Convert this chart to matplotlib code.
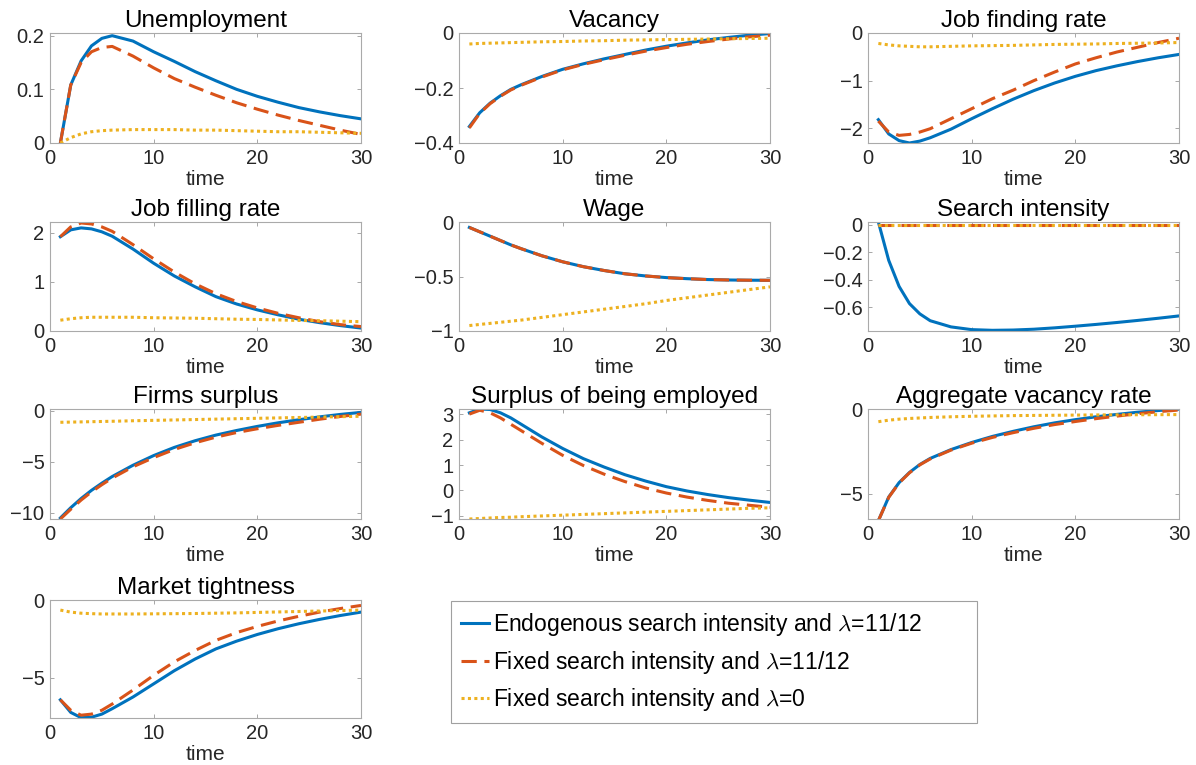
import numpy as np
import matplotlib
matplotlib.use("Agg")
import matplotlib.pyplot as plt

plt.rcParams['font.family'] = ['Liberation Sans', 'DejaVu Sans']
plt.rcParams['mathtext.fontset'] = 'cm'

# time points
t = [1, 2, 3, 4, 5, 6, 8, 10, 12, 14, 16, 18, 20, 22, 24, 26, 28, 30]

titles = ['Unemployment', 'Vacancy', 'Job finding rate',
          'Job filling rate', 'Wage', 'Search intensity',
          'Firms surplus', 'Surplus of being employed', 'Aggregate vacancy rate',
          'Market tightness']

# endogenous search intensity, lambda = 11/12
endo = [
    [0, 0.108, 0.153, 0.181, 0.195, 0.2, 0.19, 0.17, 0.152, 0.133, 0.116, 0.1, 0.087, 0.076, 0.066, 0.058, 0.051, 0.045],
    [-0.34, -0.29, -0.255, -0.228, -0.205, -0.188, -0.158, -0.132, -0.112, -0.094, -0.078, -0.062, -0.048, -0.036, -0.025, -0.016, -0.008, -0.002],
    [-1.82, -2.12, -2.26, -2.31, -2.27, -2.2, -2.02, -1.8, -1.59, -1.39, -1.21, -1.05, -0.91, -0.79, -0.69, -0.6, -0.52, -0.45],
    [1.92, 2.06, 2.1, 2.08, 2.02, 1.93, 1.67, 1.38, 1.12, 0.9, 0.7, 0.55, 0.43, 0.33, 0.24, 0.17, 0.11, 0.06],
    [-0.05, -0.09, -0.13, -0.17, -0.21, -0.245, -0.31, -0.365, -0.41, -0.445, -0.475, -0.495, -0.51, -0.52, -0.528, -0.532, -0.534, -0.535],
    [0.02, -0.26, -0.45, -0.575, -0.65, -0.7, -0.745, -0.765, -0.77, -0.768, -0.762, -0.752, -0.74, -0.727, -0.713, -0.698, -0.682, -0.665],
    [-10.5, -9.5, -8.6, -7.8, -7.1, -6.45, -5.35, -4.4, -3.6, -2.95, -2.4, -1.95, -1.55, -1.2, -0.9, -0.62, -0.38, -0.18],
    [3.05, 3.2, 3.18, 3.05, 2.85, 2.6, 2.1, 1.65, 1.25, 0.92, 0.62, 0.37, 0.15, -0.02, -0.16, -0.28, -0.38, -0.47],
    [-6.6, -5.2, -4.35, -3.75, -3.28, -2.92, -2.4, -1.98, -1.62, -1.32, -1.05, -0.82, -0.63, -0.46, -0.32, -0.19, -0.09, -0.01],
    [-6.43, -7.24, -7.58, -7.55, -7.35, -7.0, -6.25, -5.4, -4.55, -3.8, -3.15, -2.65, -2.22, -1.85, -1.53, -1.25, -1.0, -0.78],
]

# fixed search intensity, lambda = 11/12
fixed = [
    [0, 0.108, 0.15, 0.17, 0.178, 0.18, 0.162, 0.14, 0.12, 0.104, 0.089, 0.075, 0.063, 0.052, 0.042, 0.033, 0.024, 0.016],
    [-0.345, -0.292, -0.257, -0.23, -0.207, -0.19, -0.16, -0.134, -0.114, -0.097, -0.081, -0.066, -0.053, -0.041, -0.031, -0.022, -0.014, -0.008],
    [-1.85, -2.08, -2.15, -2.13, -2.08, -2.01, -1.8, -1.59, -1.38, -1.2, -1.0, -0.82, -0.65, -0.52, -0.4, -0.3, -0.2, -0.11],
    [1.92, 2.12, 2.2, 2.18, 2.12, 2.03, 1.76, 1.47, 1.2, 0.96, 0.76, 0.6, 0.47, 0.36, 0.27, 0.19, 0.13, 0.09],
    [-0.05, -0.09, -0.13, -0.17, -0.21, -0.245, -0.31, -0.365, -0.41, -0.445, -0.475, -0.495, -0.51, -0.52, -0.528, -0.532, -0.534, -0.535],
    [0] * 18,
    [-10.6, -9.65, -8.75, -7.95, -7.25, -6.6, -5.5, -4.6, -3.8, -3.15, -2.6, -2.15, -1.78, -1.45, -1.15, -0.85, -0.58, -0.35],
    [3.0, 3.15, 3.05, 2.85, 2.6, 2.35, 1.85, 1.38, 0.98, 0.64, 0.35, 0.1, -0.1, -0.26, -0.39, -0.5, -0.58, -0.66],
    [-6.6, -5.22, -4.37, -3.77, -3.3, -2.95, -2.43, -2.02, -1.68, -1.4, -1.14, -0.92, -0.74, -0.57, -0.42, -0.28, -0.16, -0.06],
    [-6.43, -7.1, -7.42, -7.35, -7.1, -6.7, -5.8, -4.85, -3.98, -3.25, -2.6, -2.1, -1.7, -1.35, -1.05, -0.78, -0.55, -0.35],
]

# fixed search intensity, lambda = 0
zero = [
    [0, 0.01, 0.017, 0.021, 0.023, 0.024, 0.025, 0.025, 0.025, 0.024, 0.024, 0.023, 0.022, 0.021, 0.021, 0.02, 0.019, 0.018],
    [-0.04, -0.038, -0.037, -0.036, -0.035, -0.034, -0.032, -0.031, -0.029, -0.028, -0.026, -0.025, -0.024, -0.023, -0.022, -0.021, -0.02, -0.019],
    [-0.22, -0.25, -0.27, -0.28, -0.29, -0.29, -0.28, -0.27, -0.265, -0.26, -0.25, -0.24, -0.235, -0.23, -0.22, -0.215, -0.21, -0.2],
    [0.22, 0.25, 0.27, 0.28, 0.28, 0.28, 0.28, 0.27, 0.265, 0.26, 0.25, 0.24, 0.235, 0.225, 0.215, 0.21, 0.2, 0.19],
    [-0.95, -0.94, -0.93, -0.92, -0.91, -0.9, -0.875, -0.85, -0.825, -0.8, -0.775, -0.75, -0.72, -0.695, -0.67, -0.645, -0.62, -0.595],
    [0] * 18,
    [-1.15, -1.13, -1.11, -1.09, -1.07, -1.05, -1.0, -0.96, -0.92, -0.88, -0.84, -0.8, -0.76, -0.72, -0.68, -0.64, -0.6, -0.56],
    [-1.12, -1.1, -1.08, -1.06, -1.05, -1.03, -1.0, -0.97, -0.94, -0.91, -0.88, -0.85, -0.82, -0.79, -0.76, -0.73, -0.7, -0.68],
    [-0.75, -0.66, -0.6, -0.56, -0.53, -0.5, -0.46, -0.43, -0.41, -0.39, -0.38, -0.37, -0.36, -0.35, -0.345, -0.34, -0.335, -0.33],
    [-0.65, -0.78, -0.85, -0.88, -0.9, -0.9, -0.9, -0.89, -0.88, -0.87, -0.85, -0.83, -0.8, -0.77, -0.74, -0.71, -0.68, -0.65],
]

ylims = [(0, 0.205), (-0.4, 0), (-2.31, 0), (0, 2.22), (-1, 0),
         (-0.775, 0.02), (-10.6, 0.15), (-1.12, 3.2), (-6.5, 0), (-7.6, 0)]
yticks = [[0, 0.1, 0.2], [-0.4, -0.2, 0], [-2, -1, 0], [0, 1, 2], [-1, -0.5, 0],
          [-0.6, -0.4, -0.2, 0], [-10, -5, 0], [-1, 0, 1, 2, 3], [-5, 0], [-5, 0]]

labels = [r'Endogenous search intensity and $\lambda$=11/12',
          r'Fixed search intensity and $\lambda$=11/12',
          r'Fixed search intensity and $\lambda$=0']
blue, red, yellow = '#0072BD', '#D95319', '#EDB120'

W, H = 1196, 765
fig = plt.figure(figsize=(W / 100, H / 100), dpi=100)

lefts = [50, 459, 868]
rows = [(33, 143), (222, 331), (409, 519), (600, 718)]

for i in range(10):
    top, bot = rows[i // 3]
    left = lefts[i % 3]
    ax = fig.add_axes([left / W, 1 - bot / H, 311 / W, (bot - top) / H])
    l1, = ax.plot(t, endo[i], color=blue, lw=2.2)
    l2, = ax.plot(t, fixed[i], color=red, lw=2.2, dashes=(5, 2.5))
    l3, = ax.plot(t, zero[i], color=yellow, lw=2.2, dashes=(1, 1.1))
    ax.set_xlim(0, 30)
    ax.set_ylim(*ylims[i])
    ax.set_xticks([0, 10, 20, 30])
    ax.set_yticks(yticks[i])
    ax.set_yticklabels([f'{v:g}'.replace('-', '\u2212') for v in yticks[i]])
    ax.tick_params(direction='in', length=3, width=0.6, top=True, right=True,
                   labelsize=14.5, colors='#999999', labelcolor='#262626', pad=4)
    for s in ax.spines.values():
        s.set_color('#aaaaaa')
        s.set_linewidth(0.8)
    ax.set_title(titles[i], fontsize=17.5, pad=4)
    ax.set_xlabel('time', fontsize=15, labelpad=2, color='#262626')

leg = fig.legend([l1, l2, l3], labels, loc='upper left', mode='expand',
                 bbox_to_anchor=(451 / W, 1 - 722 / H, 526 / W, 121 / H),
                 borderaxespad=0,
                 fontsize=16.5, handlelength=1.2, handletextpad=0.2,
                 labelspacing=0.45, borderpad=0.45, fancybox=False)
leg.get_frame().set_edgecolor('#888888')
leg.get_frame().set_linewidth(0.8)

fig.savefig('out.png', dpi=100)
